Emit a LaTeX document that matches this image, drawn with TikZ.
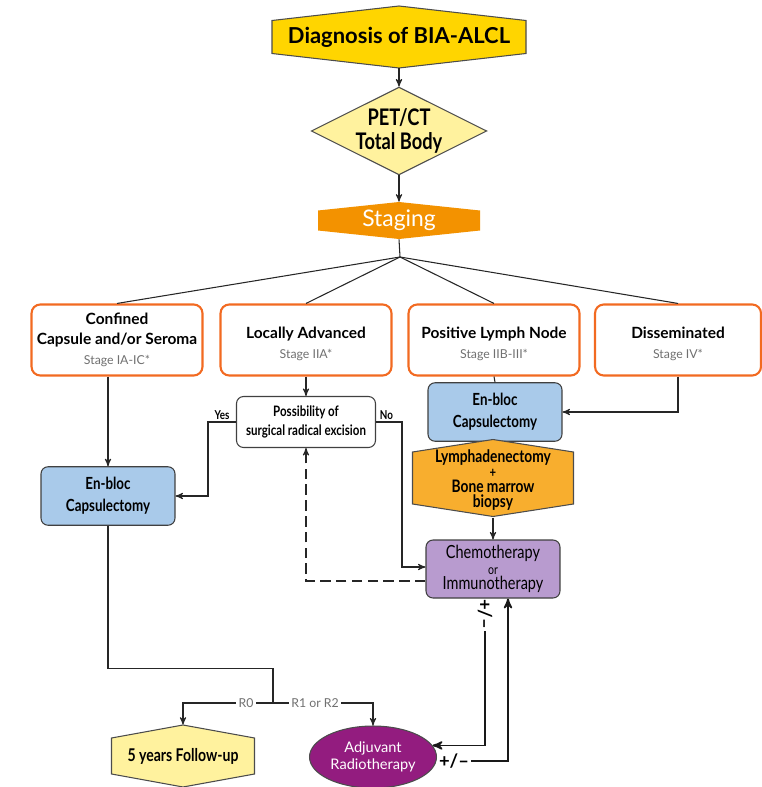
\documentclass[tikz,border=0pt]{standalone}
\usepackage{fontspec}
\setmainfont{Lato}
\newfontfamily\condfont[FakeStretch=0.8]{Lato}
\usepackage{tikz}
\usetikzlibrary{arrows, positioning, shapes.geometric}

\definecolor{diagyellow}{HTML}{FFD500}
\definecolor{paleyellow}{HTML}{FFF29E}
\definecolor{stageorange}{HTML}{F39200}
\definecolor{boxorange}{HTML}{F26A21}
\definecolor{stagegray}{HTML}{707070}
\definecolor{bluefill}{HTML}{A9CAEA}
\definecolor{lymphorange}{HTML}{F8AE2E}
\definecolor{chemopurple}{HTML}{B89BCF}
\definecolor{adjpurple}{HTML}{931C7F}
\newcommand{\stagetxt}{\mdseries\fontsize{7}{8}\selectfont\color{stagegray}}
% hexagon with pointed top and bottom: centre, half width, half body, tip, style
\newcommand{\hexpath}[5]{\path[#5] (#1) ++(-#2,-#3) -- ++(#2,-#4) -- ++(#2,#4) -- ++(0,2*#3) -- ++(-#2,#4) -- ++(-#2,-#4) -- cycle;}

\begin{document}
\begin{tikzpicture}[x=0.02cm, y=-0.02cm, >=stealth']
\useasboundingbox (0,0) rectangle (761,787);
\tikzset{
  line/.style={draw=black!85, line width=0.6pt},
  thickline/.style={draw=black!90, line width=1pt},
  hexfill/.style={draw=black!70, line width=0.6pt, fill=#1},
  hexlabel/.style={inner sep=0pt, align=center},
  stagebox/.style={draw=boxorange, line width=1.2pt, rounded corners=5pt, fill=white, minimum width=3.42cm, minimum height=1.42cm, inner sep=0pt, align=center, font=\bfseries\fontsize{8.8}{11.3}\selectfont},
  surgbox/.style={draw=black!75, line width=0.6pt, rounded corners=4pt, fill=bluefill, minimum width=2.68cm, minimum height=1.17cm, inner sep=0pt, align=center, font=\condfont\bfseries\fontsize{9.5}{12.5}\selectfont},
  tag/.style={font=\condfont\bfseries\fontsize{7}{8}\selectfont, inner sep=1pt},
  rlabel/.style={font=\fontsize{7}{8}\selectfont, text=stagegray, fill=white, inner sep=1.5pt}
}

% top of the chart
\hexpath{399,37}{127}{16.5}{14.5}{hexfill=diagyellow}
\node[hexlabel, minimum width=5.08cm, minimum height=1.24cm, font=\bfseries\fontsize{12.5}{14}\selectfont] (diag) at (399,37) {Diagnosis of BIA-ALCL};
\node[diamond, draw=black!70, line width=0.6pt, fill=paleyellow, minimum width=3.38cm, minimum height=1.74cm, inner sep=0pt, aspect=2, align=center, font=\condfont\bfseries\fontsize{13}{13.5}\selectfont] (pet) at (399,131) {PET/CT\\Total Body};
\hexpath{399,220.5}{81}{10}{8.5}{fill=stageorange}
\node[hexlabel, minimum width=3.24cm, minimum height=0.74cm, text=white, font=\fontsize{13}{14}\selectfont] (stag) at (399,220.5) {Staging};
\coordinate (split) at (400,257);

% stages
\node[stagebox] (conf) at (117,340) {Confined\\Capsule and/or Seroma\\{\stagetxt Stage IA-IC*}};
\node[stagebox] (local) at (306,340) {\mbox{}\\Locally Advanced\\{\stagetxt Stage IIA*}};
\node[stagebox] (lymph) at (494,340) {\mbox{}\\Positive Lymph Node\\{\stagetxt Stage IIB-III*}};
\node[stagebox, minimum width=3.32cm] (diss) at (678,340) {\mbox{}\\Disseminated\\{\stagetxt Stage IV*}};

% treatments
\node[surgbox] (capL) at (108,496) {En-bloc\\Capsulectomy};
\node[draw=black!75, line width=0.6pt, rounded corners=4pt, fill=white, minimum width=2.78cm, minimum height=1.02cm, inner sep=0pt, align=center, font=\condfont\bfseries\fontsize{8.2}{10.8}\selectfont] (poss) at (306,422) {Possibility of\\surgical radical excision};
\node[surgbox] (capR) at (495,412) {En-bloc\\Capsulectomy};
\hexpath{493,478}{80.5}{26}{12.5}{hexfill=lymphorange}
\node[hexlabel, minimum width=3.22cm, minimum height=1.5cm, font=\condfont\bfseries\fontsize{9.8}{8.5}\selectfont] (lymphad) at (493,480) {Lymphadenectomy\\{\fontsize{8}{8.5}\selectfont +}\\Bone marrow\\biopsy};
\node[draw=black!75, line width=0.6pt, rounded corners=4pt, fill=chemopurple, minimum width=2.68cm, minimum height=1.16cm, inner sep=0pt, align=center, font=\condfont\fontsize{10.3}{9}\selectfont] (chemo) at (493,569) {Chemotherapy\\{\fontsize{7.5}{7}\selectfont or}\\Immunotherapy};

% outcome
\hexpath{183,756}{71.5}{18}{13}{hexfill=paleyellow}
\node[hexlabel, minimum width=2.86cm, minimum height=1.24cm, font=\condfont\bfseries\fontsize{10}{12}\selectfont] (follow) at (183,756) {5 years Follow-up};
\node[ellipse, draw=black!70, line width=0.6pt, fill=adjpurple, minimum width=2.54cm, minimum height=1.24cm, inner sep=0pt, align=center, text=white, font=\fontsize{8.3}{10}\selectfont] (adj) at (373,757) {Adjuvant\\Radiotherapy};
\node[font=\bfseries\fontsize{10.5}{10}\selectfont, inner sep=1pt, rotate=-90] (pmA) at (485,614) {+/--};
\node[font=\bfseries\fontsize{10.5}{10}\selectfont, inner sep=1pt] (pmB) at (454,761) {+/--};
\coordinate (rsplit) at (273,703);

% connectors
\draw[line, ->] (diag.south) -- (pet.north);
\draw[line, ->] (pet.south) -- (stag.north);
\draw[line] (stag.south) -- (split);
\foreach \s in {conf, local, lymph, diss}
  \draw[line] (split) -- (\s.north);
\draw[line, ->] (conf.south -| capL.north) -- (capL.north);
\draw[line, ->] (local.south) -- (poss.north);
\draw[line] (lymph.south) -- (capR.north);
\draw[line, ->] (diss.south) |- (capR.east);
\draw[line, ->] (poss.west) -- ++(-28,0) node[tag, above, pos=0.5] {Yes} |- (capL.east);
\draw[line, ->] (poss.east) -- ++(26,0) node[tag, above, pos=0.4] {No} |- ([yshift=0.04cm]chemo.west);
\draw[line, ->] (lymphad.south) -- (chemo.north);
\draw[line, ->, dashed, dash pattern=on 6pt off 3pt] ([yshift=-0.24cm]chemo.west) -| (poss.south);
\draw[line] (capL.south) -- ++(0,143) -| (rsplit);
\draw[line, ->] (rsplit) -| node[rlabel, pos=0.15] {R0} (follow.north);
\draw[line, ->] (rsplit) -| node[rlabel, pos=0.21] {R1 or R2} (adj.north);
\draw[thickline, ->] (pmA.east) |- (adj.11);
\draw[thickline, ->] (pmB.east) -| ([xshift=0.3cm]chemo.south);
\end{tikzpicture}
\end{document}
